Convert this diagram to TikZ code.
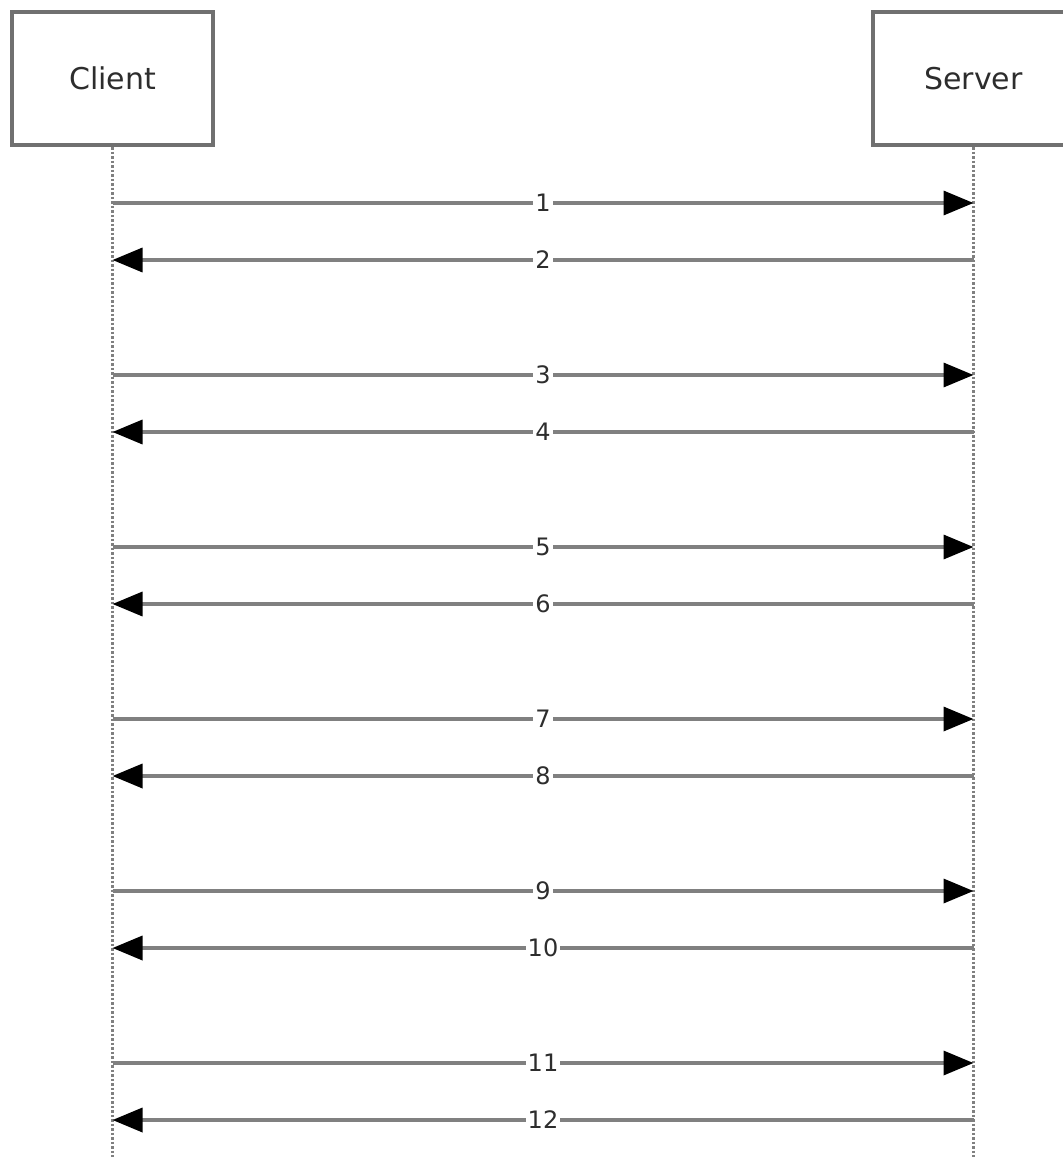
\documentclass[tikz,border=0pt]{standalone}
\usepackage{fontspec}
\setmainfont{DejaVu Sans}
\usetikzlibrary{arrows.meta}
\definecolor{boxgray}{RGB}{112,112,112}
\definecolor{linegray}{RGB}{128,128,128}
\definecolor{textgray}{RGB}{45,45,45}
\tikzstyle{actor} = [rectangle, 
minimum width=201pt, 
minimum height=133pt, 
draw=boxgray, 
line width=4pt, 
text=textgray, 
font=\fontsize{30}{36}\selectfont]
\tikzstyle{lifeline} = [draw=linegray, line width=3pt, dash pattern=on 2.5pt off 2pt]
\tikzstyle{msg} = [draw=linegray, line width=3.5pt, -{Triangle[length=30pt, width=24pt, color=black]}]
\tikzstyle{num} = [fill=white, inner xsep=2pt, inner ysep=3pt, text=textgray, font=\fontsize{24}{28}\selectfont]

\begin{document}
\begin{tikzpicture}[x=1pt, y=-1pt]
  \useasboundingbox (0,0) rectangle (1063,1157);

  \node (client) [actor] at (112.5,78.5) {Client};
  \node (server) [actor] at (973.5,78.5) {Server};

  \coordinate (clientend) at (112.5,1160);
  \coordinate (serverend) at (973.5,1160);
  \draw [lifeline] (client.south) -- (clientend);
  \draw [lifeline] (server.south) -- (serverend);

  \foreach \i in {0,...,5} {
    \pgfmathtruncatemacro{\fwd}{2*\i+1}
    \pgfmathtruncatemacro{\bck}{2*\i+2}
    \coordinate (c\fwd) at (112.5,203+172*\i);
    \coordinate (s\fwd) at (973.5,203+172*\i);
    \coordinate (c\bck) at (112.5,260+172*\i);
    \coordinate (s\bck) at (973.5,260+172*\i);
    \draw [msg] (c\fwd) -- node[num] {\fwd} (s\fwd);
    \draw [msg] (s\bck) -- node[num] {\bck} (c\bck);
  }
\end{tikzpicture}
\end{document}
